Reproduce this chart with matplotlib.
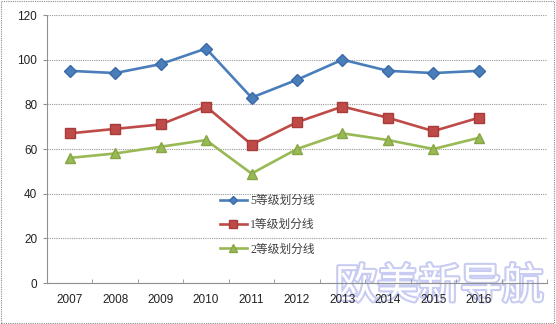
import matplotlib
matplotlib.use("Agg")
import matplotlib.pyplot as plt
import matplotlib.patheffects as pe
from matplotlib.ticker import FixedLocator, MultipleLocator

years = ["2007", "2008", "2009", "2010", "2011", "2012", "2013", "2014", "2015", "2016"]
line5 = [95, 94, 98, 105, 83, 91, 100, 95, 94, 95]
line1 = [67, 69, 71, 79, 62, 72, 79, 74, 68, 74]
line2 = [56, 58, 61, 64, 49, 60, 67, 64, 60, 65]
labels = ["5等级划分线", "1等级划分线", "2等级划分线"]

plt.rcParams['font.family'] = ['Liberation Sans', 'Noto Sans CJK SC']

fig = plt.figure(figsize=(5.56, 3.24), dpi=100)
ax = fig.add_axes([47 / 556, 1 - 283 / 324, 500 / 556, 268 / 324])
ax.patch.set_alpha(0)

x = list(range(len(years)))
ax.plot(x, line5, color='#4a7ebb', lw=1.9, marker='D', ms=6,
        mfc='#4a7ebb', mec='#3a6aa8', label=labels[0])
ax.plot(x, line1, color='#be4b48', lw=1.9, marker='s', ms=7,
        mfc='#be4b48', mec='#a83c3a', label=labels[1])
ax.plot(x, line2, color='#98b954', lw=1.9, marker='^', ms=7,
        mfc='#98b954', mec='#86a646', label=labels[2])

# 11 category slots, the last one stays empty
ax.set_xlim(-0.5, 10.5)
ax.set_ylim(0, 120)
ax.yaxis.set_major_locator(MultipleLocator(20))
ax.set_xticks(x)
ax.set_xticklabels(years)
ax.xaxis.set_minor_locator(FixedLocator([i + 0.5 for i in range(-1, 11)]))
ax.tick_params(axis='x', which='major', length=0, pad=8, labelsize=8.5, colors='#222222')
ax.tick_params(axis='x', which='minor', length=3, color='#909090', direction='in')
ax.tick_params(axis='y', length=3, color='#909090', pad=4, labelsize=8.5, labelcolor='#222222')

ax.grid(axis='y', color='#999999', lw=0.8, ls=(0, (1, 1)))
ax.set_axisbelow(True)
for side in ['top', 'right']:
    ax.spines[side].set_visible(False)
for side in ['left', 'bottom']:
    ax.spines[side].set_color('#909090')
    ax.spines[side].set_linestyle((0, (1, 1)))
    ax.spines[side].set_linewidth(0.8)

leg = ax.legend(loc='upper left', bbox_to_anchor=(168 / 500, 1 - 175 / 268),
                frameon=False, handlelength=2.3, handletextpad=0.3,
                labelspacing=1.05, borderaxespad=0, markerscale=0.75,
                prop={'family': ['Liberation Serif', 'Noto Sans CJK SC'], 'size': 8.5})
for t in leg.get_texts():
    t.set_color('#404040')

# watermark sits behind the axes
fig.text(0.79, 0.115, "欧美新导航", ha='center', va='center', fontsize=30,
         family=['Noto Sans CJK SC'], color='white', zorder=-1,
         path_effects=[pe.withStroke(linewidth=3, foreground='#c8ccf2')])

# outer border
border = plt.Rectangle((0.002, 0.003), 0.995, 0.994, transform=fig.transFigure,
                       fill=False, ec='#8a8a8a', lw=0.8, ls=(0, (1, 1)))
fig.patches.append(border)

fig.savefig("out.png", dpi=100)
